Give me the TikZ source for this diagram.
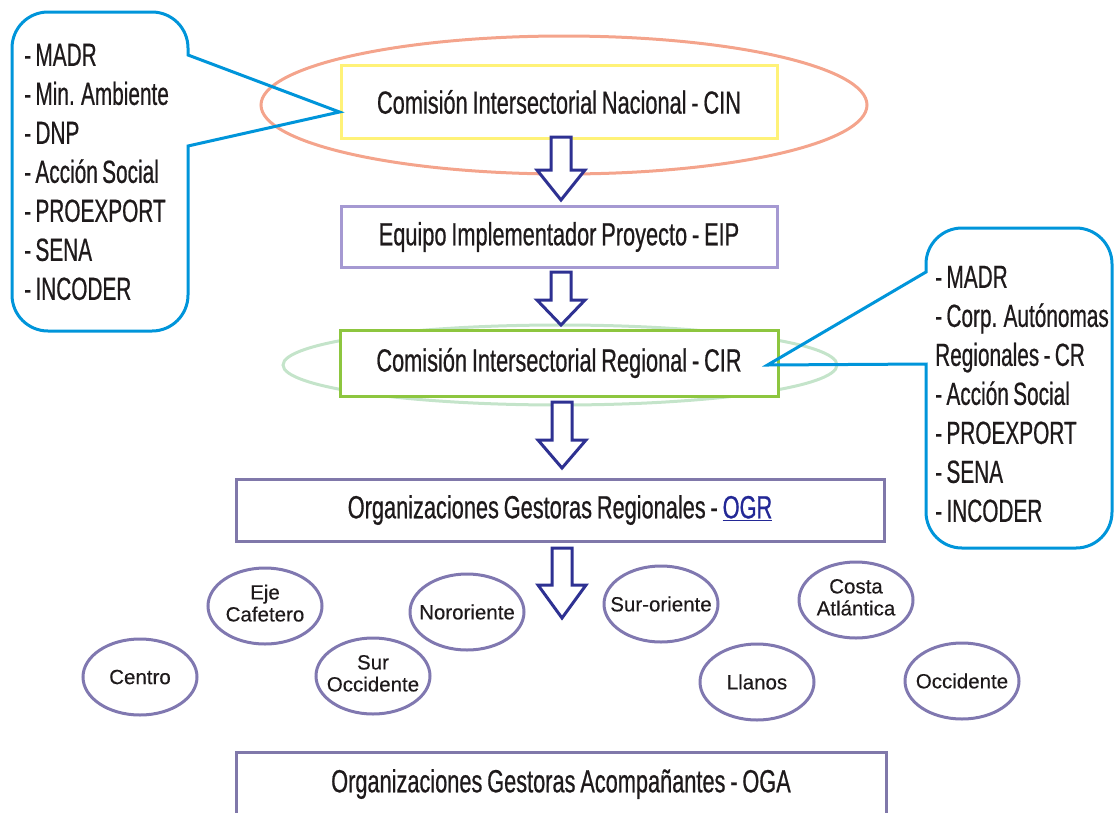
\documentclass[tikz,border=0pt]{standalone}
\usepackage{fontspec}
\setmainfont{Liberation Sans}
\newfontfamily\narrowfont[FakeStretch=0.68, FakeBold=0.6, WordSpace=0.8]{Liberation Sans}
\newfontfamily\listfont[FakeStretch=0.65, FakeBold=0.6, WordSpace=0.75]{Liberation Sans}
\newfontfamily\regionfont[FakeBold=0.3]{Liberation Sans}
\usepackage{tikz}
\usetikzlibrary{shapes.geometric, calc}

\definecolor{calloutblue}{RGB}{0,149,218}
\definecolor{ringsalmon}{RGB}{244,164,140}
\definecolor{ringgreen}{RGB}{196,228,202}
\definecolor{cinyellow}{RGB}{255,242,120}
\definecolor{eipviolet}{RGB}{165,153,210}
\definecolor{cirgreen}{RGB}{141,198,63}
\definecolor{ogrviolet}{RGB}{128,120,170}
\definecolor{regionline}{RGB}{128,120,176}
\definecolor{arrowblue}{RGB}{46,49,146}
\definecolor{ogrlink}{RGB}{35,40,150}
\definecolor{txt}{RGB}{30,26,27}

% hollow block arrow: x, top, start of head, tip
\newcommand{\blockarrow}[4]{%
  \draw[hollow] (#1-10,#2) -- (#1+10,#2) -- (#1+10,#3) -- (#1+24,#3)
    -- (#1,#4) -- (#1-24,#3) -- (#1-10,#3) -- cycle;}
% region labels without widening the ellipse
\newcommand{\rtext}[1]{\makebox[0pt]{\begin{tabular}{@{}c@{}}#1\end{tabular}}}
\newcommand{\rword}[1]{\makebox[0pt]{#1}}

\begin{document}
\begin{tikzpicture}[x=1pt, y=-1pt,
    box/.style={draw, fill=white, line width=3pt, inner sep=0pt, text=txt,
      font=\narrowfont\fontsize{32}{39}\selectfont},
    list/.style={anchor=west, align=left, inner sep=0pt, text=txt,
      font=\listfont\fontsize{32}{39}\selectfont},
    region/.style={ellipse, draw=regionline, line width=3pt, inner sep=0pt,
      minimum width=114pt, minimum height=76pt, text=txt,
      font=\regionfont\fontsize{20.5}{22}\selectfont},
    callout/.style={draw=calloutblue, line width=3pt, line join=miter},
    hollow/.style={draw=arrowblue, fill=white, line width=3pt, line join=miter}
  ]
    \useasboundingbox (0,0) rectangle (1116,812);

    % rings behind the commissions
    \draw[ringsalmon, line width=3pt] (564,105) ellipse [x radius=303, y radius=69];
    \draw[ringgreen, line width=3pt] (560,365) ellipse [x radius=277, y radius=40];

    % main levels
    \node[box, draw=cinyellow, minimum width=436pt, minimum height=73pt] (CIN)
      at (559,102) {Comisión Intersectorial Nacional - CIN};
    \node[box, draw=eipviolet, minimum width=436pt, minimum height=61pt] (EIP)
      at (559,237) {Equipo Implementador Proyecto - EIP};
    \node[box, draw=cirgreen, minimum width=438pt, minimum height=66pt] (CIR)
      at (559,363) {Comisión Intersectorial Regional - CIR};
    \node[box, draw=ogrviolet, minimum width=648pt, minimum height=62pt] (OGR)
      at (560,510) {Organizaciones Gestoras Regionales -
      \textcolor{ogrlink}{\underline{OGR}}};
    \node[box, draw=ogrviolet, minimum width=650pt, minimum height=64pt] (OGA)
      at (561,784) {Organizaciones Gestoras Acompañantes - OGA};

    \blockarrow{561}{137}{170}{200}
    \blockarrow{561}{272}{300}{325}
    \blockarrow{562}{402}{440}{468}
    \blockarrow{562}{548}{585}{618}

    % member lists
    \node[list] (cinlist) at (24,172)
      {- MADR\\- Min. Ambiente\\- DNP\\- Acción Social\\- PROEXPORT\\- SENA\\- INCODER};
    \node[list] (cirlist) at (935,394)
      {- MADR\\- Corp. Autónomas\\Regionales - CR\\- Acción Social\\- PROEXPORT\\- SENA\\- INCODER};

    \coordinate (tipL) at ($(CIN.west)+(0,10)$);
    \coordinate (tipR) at ($(CIR.east)+(-12,2)$);
    \draw[callout] (tipL) -- (188,55) [rounded corners=36] -- (188,12) -- (12,12)
      -- (12,331) -- (188,331) [sharp corners] -- (188,146) -- cycle;
    \draw[callout] (tipR) -- (926,272) [rounded corners=36] -- (926,228) -- (1112,228)
      -- (1112,548) -- (926,548) [sharp corners] -- (926,364) -- cycle;

    % regions
    \node[region] (eje) at (265,606) {\rtext{Eje\\Cafetero}};
    \node[region] (centro) at (140,677) {\rword{Centro}};
    \node[region] (suroccidente) at (373,676) {\rtext{Sur\\Occidente}};
    \node[region] (nororiente) at (467,612) {\rword{Nororiente}};
    \node[region] (suroriente) at (661,604) {\rword{Sur-oriente}};
    \node[region] (costa) at (856,600) {\rtext{Costa\\Atlántica}};
    \node[region] (llanos) at (757,682) {\rword{Llanos}};
    \node[region] (occidente) at (962,681) {\rword{Occidente}};
  \end{tikzpicture}
\end{document}
